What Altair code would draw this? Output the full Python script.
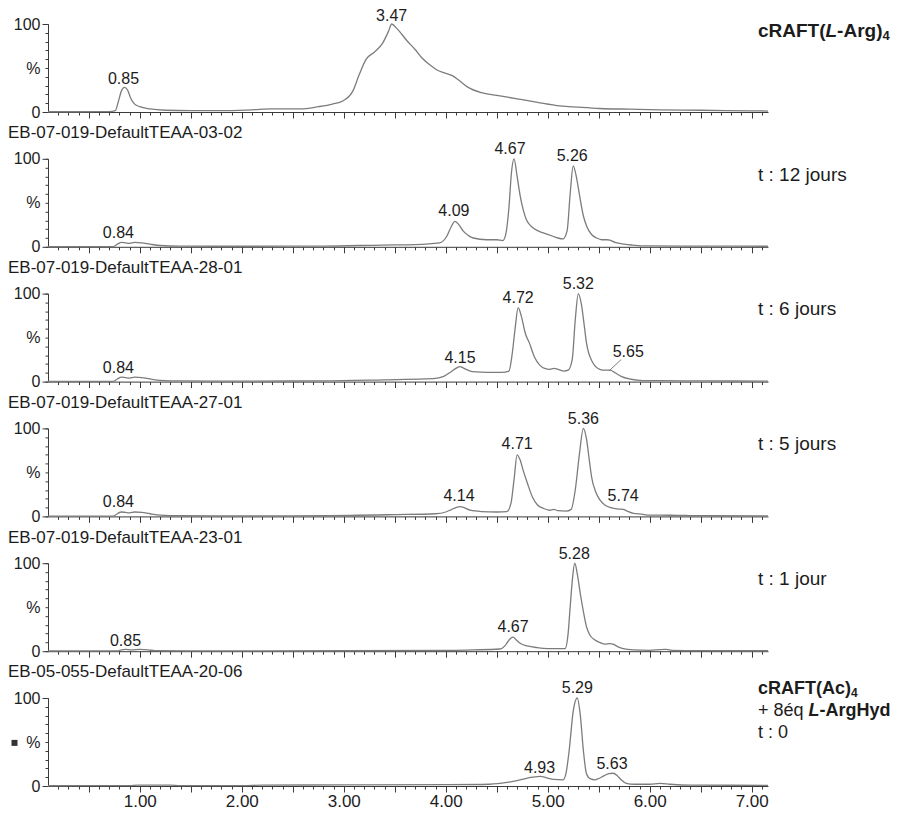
import altair as alt
import pandas as pd

FONT = "Liberation Sans, Arial, Helvetica, sans-serif"
TXT = "#1c1c1c"
AX = "#3a3a3a"
TRACE = "#7c7c7c"

# ---------------- data (retention time, % intensity) ----------------
trace_1 = [(0.10, 0.3), (0.40, 0.3), (0.70, 0.4), (0.76, 1.5), (0.79, 12), (0.82, 24), (0.85, 28),
           (0.88, 25), (0.91, 16), (0.95, 9), (1.00, 6), (1.10, 3.5), (1.25, 2), (1.50, 1.5),
           (1.80, 1.5), (2.10, 2.5), (2.30, 3.5), (2.57, 3.5), (2.75, 6), (2.89, 9), (2.99, 12.5),
           (3.09, 24), (3.15, 42), (3.22, 60), (3.30, 68), (3.38, 78), (3.44, 92), (3.47, 100),
           (3.52, 95), (3.62, 81), (3.70, 71), (3.77, 61), (3.85, 53), (3.91, 48), (4.00, 44),
           (4.07, 41), (4.13, 36), (4.22, 28), (4.35, 22), (4.50, 19), (4.70, 15), (4.90, 11),
           (5.12, 7), (5.30, 5.5), (5.51, 4), (5.80, 3.2), (6.10, 2.5), (6.50, 2), (7.00, 1.3),
           (7.16, 1.1)]
trace_2 = [(0.10, 0.3), (0.74, 0.3), (0.78, 3), (0.82, 5), (0.86, 4.5), (0.90, 4), (0.95, 5),
           (1.02, 4.5), (1.10, 3), (1.20, 1.5), (1.40, 0.8), (2.00, 0.6), (2.80, 0.8), (3.38, 2),
           (3.70, 2.5), (3.94, 4.5), (4.01, 12), (4.05, 22), (4.09, 29), (4.13, 25), (4.17, 18),
           (4.22, 13), (4.27, 10), (4.40, 8), (4.50, 8), (4.56, 7), (4.59, 15), (4.62, 45),
           (4.645, 85), (4.67, 100), (4.70, 80), (4.73, 58), (4.76, 42), (4.79, 31), (4.84, 23),
           (4.89, 19), (4.95, 16), (5.00, 14), (5.05, 12), (5.10, 10), (5.15, 9), (5.19, 18),
           (5.22, 60), (5.25, 92), (5.28, 80), (5.31, 60), (5.35, 35), (5.38, 24), (5.43, 14),
           (5.48, 10), (5.53, 8), (5.58, 8), (5.61, 7.5), (5.66, 5), (5.75, 3), (5.83, 2),
           (6.00, 1), (6.50, 0.8), (7.16, 0.6)]
trace_3 = [(0.10, 0.3), (0.74, 0.3), (0.78, 3), (0.82, 5), (0.86, 4.5), (0.90, 4), (0.95, 5),
           (1.02, 4.5), (1.10, 3), (1.20, 1.5), (1.40, 0.8), (2.00, 0.6), (2.80, 0.8), (3.40, 2),
           (3.80, 3), (3.92, 4), (3.98, 6), (4.05, 11), (4.10, 15), (4.14, 17), (4.18, 15),
           (4.24, 12), (4.30, 11), (4.40, 10.5), (4.55, 10.5), (4.62, 12), (4.65, 30), (4.68, 60),
           (4.71, 84), (4.74, 75), (4.78, 55), (4.82, 44), (4.87, 28), (4.92, 19), (4.97, 15),
           (5.02, 14), (5.06, 15), (5.10, 14), (5.16, 12), (5.20, 13), (5.24, 25), (5.27, 70),
           (5.30, 100), (5.33, 88), (5.36, 62), (5.38, 44), (5.44, 22), (5.51, 14), (5.56, 13),
           (5.61, 13), (5.66, 10), (5.72, 6), (5.80, 3), (5.90, 1.5), (6.10, 1), (6.50, 0.8),
           (7.16, 0.6)]
trace_4 = [(0.10, 0.3), (0.74, 0.3), (0.78, 3), (0.82, 5), (0.86, 4.5), (0.90, 4), (0.95, 5),
           (1.02, 4.5), (1.10, 3), (1.20, 1.5), (1.40, 0.8), (2.00, 0.6), (2.80, 0.8), (3.50, 2),
           (3.90, 3), (4.00, 5), (4.06, 8), (4.10, 10), (4.14, 11), (4.18, 10), (4.24, 7),
           (4.35, 5.5), (4.50, 5), (4.60, 5.5), (4.64, 15), (4.67, 42), (4.70, 70), (4.73, 64),
           (4.76, 52), (4.80, 38), (4.85, 22), (4.90, 13), (4.96, 9), (5.02, 7), (5.06, 8),
           (5.10, 6.5), (5.18, 6), (5.23, 8), (5.27, 30), (5.31, 70), (5.35, 100), (5.38, 88),
           (5.41, 62), (5.43, 45), (5.47, 28), (5.51, 19), (5.56, 13), (5.62, 10), (5.68, 8.5),
           (5.74, 8), (5.78, 6), (5.84, 3.5), (5.92, 2.5), (6.00, 1.5), (6.20, 1.3), (6.35, 1),
           (6.60, 0.8), (7.16, 0.6)]
trace_5 = [(0.10, 0.3), (0.78, 0.3), (0.82, 1.5), (0.86, 2), (0.92, 1.5), (1.00, 2), (1.08, 1.5),
           (1.15, 0.6), (1.50, 0.4), (3.00, 0.5), (4.04, 1), (4.27, 1.5), (4.53, 2.5), (4.58, 6),
           (4.61, 11), (4.64, 15), (4.66, 16), (4.69, 13), (4.73, 9), (4.80, 6), (4.90, 4),
           (5.00, 3), (5.17, 3), (5.20, 20), (5.22, 50), (5.245, 85), (5.265, 100), (5.29, 88),
           (5.32, 65), (5.35, 45), (5.38, 28), (5.41, 19), (5.46, 13), (5.51, 10), (5.56, 8),
           (5.61, 8.5), (5.64, 8), (5.69, 5), (5.74, 3), (5.84, 1.5), (6.00, 1), (6.10, 1.8),
           (6.16, 2), (6.22, 1), (6.50, 0.6), (7.16, 0.5)]
trace_6 = [(0.10, 0.3), (0.90, 0.4), (0.98, 1), (1.30, 1), (1.40, 0.5), (2.00, 0.5), (2.20, 1),
           (3.00, 1.2), (4.00, 1.5), (4.43, 2), (4.60, 4), (4.73, 7), (4.85, 10), (4.93, 11),
           (5.00, 9), (5.06, 7.5), (5.15, 7), (5.18, 15), (5.21, 40), (5.25, 85), (5.29, 100),
           (5.32, 80), (5.35, 40), (5.38, 14), (5.42, 8), (5.46, 7), (5.50, 8.5), (5.55, 11.5),
           (5.60, 14), (5.64, 14.5), (5.68, 12), (5.72, 7), (5.77, 3), (5.85, 2), (6.00, 2),
           (6.10, 3), (6.20, 2), (6.40, 1), (7.16, 0.8)]

# peak labels: (x, y, text)
peaks_1 = [(0.84, 37, "0.85"), (3.47, 109, "3.47")]
peaks_2 = [(0.79, 16, "0.84"), (4.08, 41, "4.09"), (4.63, 111, "4.67"), (5.24, 103, "5.26")]
peaks_3 = [(0.79, 16, "0.84"), (4.14, 27, "4.15"), (4.71, 95, "4.72"), (5.30, 111, "5.32"),
           (5.79, 34, "5.65")]
peaks_4 = [(0.79, 16, "0.84"), (4.13, 23, "4.14"), (4.70, 82, "4.71"), (5.35, 111, "5.36"),
           (5.74, 23, "5.74")]
peaks_5 = [(0.86, 12, "0.85"), (4.66, 27, "4.67"), (5.26, 111, "5.28")]
peaks_6 = [(4.92, 20, "4.93"), (5.29, 111, "5.29"), (5.63, 25, "5.63")]

# leader line of the 5.65 label (panel 3): x, x2, y, y2
leader_3 = [(5.60, 5.72, 12, 25)]

headers = ["EB-07-019-DefaultTEAA-03-02", "EB-07-019-DefaultTEAA-28-01",
           "EB-07-019-DefaultTEAA-27-01", "EB-07-019-DefaultTEAA-23-01",
           "EB-05-055-DefaultTEAA-20-06"]

time_labels = ["t : 12 jours", "t : 6 jours", "t : 5 jours", "t : 1 jour"]

traces = [trace_1, trace_2, trace_3, trace_4, trace_5, trace_6]
peaks = [peaks_1, peaks_2, peaks_3, peaks_4, peaks_5, peaks_6]

# ---------------- layout constants ----------------
X_DOMAIN = [0.1, 7.16]
W, H = 720, 88
PX = W / (X_DOMAIN[1] - X_DOMAIN[0])
X_HEAD = X_DOMAIN[0] - 40 / PX
X_RIGHT = X_DOMAIN[0] + 710 / PX
MINOR_X = [round(0.1 * i, 1) for i in range(2, 72)]
MAJOR_X = [0.5 * i for i in range(1, 15)]
MINOR_Y = list(range(0, 101, 10))

XS = alt.Scale(domain=X_DOMAIN, nice=False, zero=False)
YS = alt.Scale(domain=[0, 100], nice=False, zero=False)


def xy(ax_x=None, ax_y=None):
    return dict(x=alt.X("t:Q", scale=XS, axis=ax_x, title=None),
                y=alt.Y("v:Q", scale=YS, axis=ax_y, title=None))


def seg(x, y, text, dx=0, dy=0, size=19, weight="normal", style="normal", align="left"):
    df = pd.DataFrame({"t": [x], "v": [y], "s": [text]})
    return alt.Chart(df).mark_text(align=align, baseline="middle", dx=dx, dy=dy, fontSize=size,
                                   fontWeight=weight, fontStyle=style, font=FONT,
                                   color=TXT).encode(text="s:N", **xy())


def right_labels(i):
    if i == 0:
        y = 92
        return [seg(X_RIGHT, y, "cRAFT(", weight="bold"),
                seg(X_RIGHT, y, "L", dx=67.5, weight="bold", style="italic"),
                seg(X_RIGHT, y, "-Arg)", dx=79.1, weight="bold"),
                seg(X_RIGHT, y, "4", dx=124.5, dy=5, size=13, weight="bold")]
    if i == 5:
        return [seg(X_RIGHT, 110, "cRAFT(Ac)", size=18, weight="bold"),
                seg(X_RIGHT, 110, "4", dx=93.0, dy=4, size=12, weight="bold"),
                seg(X_RIGHT, 85, "+ 8éq", size=18),
                seg(X_RIGHT, 85, "L", dx=50.6, size=18, weight="bold", style="italic"),
                seg(X_RIGHT, 85, "-ArgHyd", dx=61.6, size=18, weight="bold"),
                seg(X_RIGHT, 60, "t : 0", size=18)]
    return [seg(X_RIGHT, 82, time_labels[i - 1])]


panels = []
for i in range(6):
    bottom = i == 5
    df = pd.DataFrame(traces[i], columns=["t", "v"])
    minor_x = alt.Axis(orient="bottom", values=MINOR_X, tickSize=3, labels=False, domain=True,
                       domainColor=AX, tickColor=AX, grid=False, title=None)
    minor_y = alt.Axis(orient="left", values=MINOR_Y, tickSize=3, labels=False, domain=True,
                       domainColor=AX, tickColor=AX, grid=False, title=None)
    major_x = alt.Axis(orient="bottom", values=MAJOR_X, tickSize=6, domain=False, grid=False,
                       labels=bottom, tickColor=AX, title=None, labelFontSize=17,
                       labelPadding=1, labelFlush=False, labelOverlap=False, labelColor=TXT,
                       labelExpr="datum.value % 1 == 0 ? format(datum.value, '.2f') : ''")
    major_y = alt.Axis(orient="left", values=[0, 50, 100], tickSize=6, domain=False, grid=False,
                       tickColor=AX, title=None, labelFontSize=16, labelPadding=2,
                       labelColor=TXT,
                       labelExpr="datum.value == 50 ? '%' : datum.label",
                       tickOpacity={"condition": {"test": "datum.value == 50", "value": 0},
                                    "value": 1})
    line = alt.Chart(df).mark_line(color=TRACE, strokeWidth=1.3, interpolate="monotone").encode(
        **xy(minor_x, minor_y))
    pdf = pd.DataFrame(peaks[i], columns=["t", "v", "s"])
    labs = alt.Chart(pdf).mark_text(fontSize=16, font=FONT, color=TXT, align="center",
                                    baseline="middle").encode(text="s:N", **xy(major_x, major_y))
    layers = [line, labs] + right_labels(i)
    if i < 5:
        layers.append(seg(X_HEAD, -24, headers[i], size=17))
    if i == 2:
        ldf = pd.DataFrame(leader_3, columns=["t", "t2", "v", "v2"])
        layers.append(alt.Chart(ldf).mark_rule(color=TRACE, strokeWidth=1).encode(
            x2="t2:Q", y2="v2:Q", **xy()))
    if i == 5:
        sq = pd.DataFrame({"t": [X_DOMAIN[0] - 33.5 / PX], "v": [49]})
        layers.append(alt.Chart(sq).mark_square(size=36, color="#333333", opacity=1).encode(**xy()))
    panel = alt.layer(*layers).resolve_axis(x="independent", y="independent").properties(
        width=W, height=H)
    panels.append(panel)

chart = alt.vconcat(*panels, spacing=46.8, bounds="flush").properties(
    padding=0, background="white"
).configure_view(stroke=None).configure_axis(labelFont=FONT, grid=False)

chart.save("out.html", embed_options={"renderer": "svg", "actions": False})
